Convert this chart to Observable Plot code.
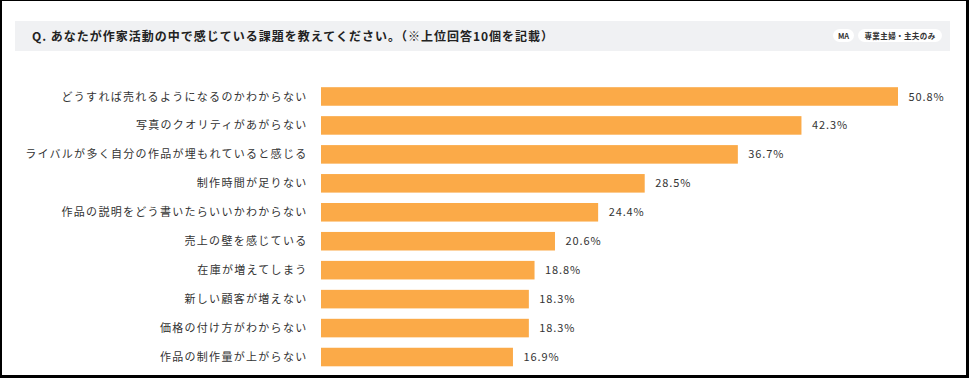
<!DOCTYPE html>
<html>
<head>
<meta charset="utf-8">
<script src="https://cdn.jsdelivr.net/npm/d3@7"></script>
<script src="https://cdn.jsdelivr.net/npm/@observablehq/plot@0.6"></script>
<style>
  html, body { margin: 0; padding: 0; background: #000; }
  #frame { position: relative; width: 969px; height: 378px; background: #000; overflow: hidden;
           font-family: "Noto Sans CJK JP", "Noto Sans", sans-serif; color: #333; }
  #inner { position: absolute; left: 2px; top: 1px; width: 964px; height: 374px; background: #fff; }
  #band { position: absolute; left: 15px; top: 21px; width: 935px; height: 30px; background: #f0f1f3; }
  #title { position: absolute; left: 32px; top: 21px; height: 30px; line-height: 30px;
           font-size: 12px; font-weight: 700; letter-spacing: 1px; color: #222; white-space: nowrap; }
  .pill { position: absolute; top: 29px; height: 13px; line-height: 13px; background: #fff; border-radius: 7px;
          font-size: 7.5px; font-weight: 600; text-align: center; color: #333; white-space: nowrap; }
  #chart { position: absolute; left: 0; top: 70px; }
  #chart svg text { letter-spacing: 1.3px; }
  #chart svg .vals text { letter-spacing: 0.9px; }
</style>
</head>
<body>
<div id="frame">
  <div id="inner"></div>
  <div id="band"></div>
  <div id="title"></div>
  <div class="pill" id="pill1" style="left:833px;width:21px;"></div>
  <div class="pill" id="pill2" style="left:858px;width:84px;letter-spacing:0.4px;"></div>
  <div id="chart"></div>
</div>
<script>
const titleText = "Q. あなたが作家活動の中で感じている課題を教えてください。（※上位回答10個を記載）";
const badges = ["MA", "専業主婦・主夫のみ"];
const categories = [
  "どうすれば売れるようになるのかわからない",
  "写真のクオリティがあがらない",
  "ライバルが多く自分の作品が埋もれていると感じる",
  "制作時間が足りない",
  "作品の説明をどう書いたらいいかわからない",
  "売上の壁を感じている",
  "在庫が増えてしまう",
  "新しい顧客が増えない",
  "価格の付け方がわからない",
  "作品の制作量が上がらない"
];
const values = [50.8, 42.3, 36.7, 28.5, 24.4, 20.6, 18.8, 18.3, 18.3, 16.9];

document.getElementById("title").textContent = titleText;
document.getElementById("pill1").textContent = badges[0];
document.getElementById("pill2").textContent = badges[1];

const data = categories.map((c, i) => ({item: c, value: values[i]}));

const chart = Plot.plot({
  width: 969,
  height: 305,
  marginLeft: 321,
  marginRight: 71,
  marginTop: 12,
  marginBottom: 3.5,
  x: {domain: [0, 50.8], axis: null},
  y: {domain: categories, padding: 0, round: false, label: null},
  style: {background: "none", fontFamily: "'Noto Sans CJK JP', 'Noto Sans', sans-serif", fontSize: "11px", color: "#333"},
  marks: [
    Plot.barX(data, {x: "value", y: "item", fill: "#fbaa48", insetTop: 5.2, insetBottom: 5.2}),
    Plot.text(data, {x: "value", y: "item", text: d => d.value.toFixed(1) + "%", textAnchor: "start", dx: 10, fill: "#333", fontSize: 11, className: "vals"}),
    Plot.axisY({tickSize: 0, tickPadding: 14, label: null, fontSize: 11})
  ]
});
document.getElementById("chart").appendChild(chart);
</script>
</body>
</html>
